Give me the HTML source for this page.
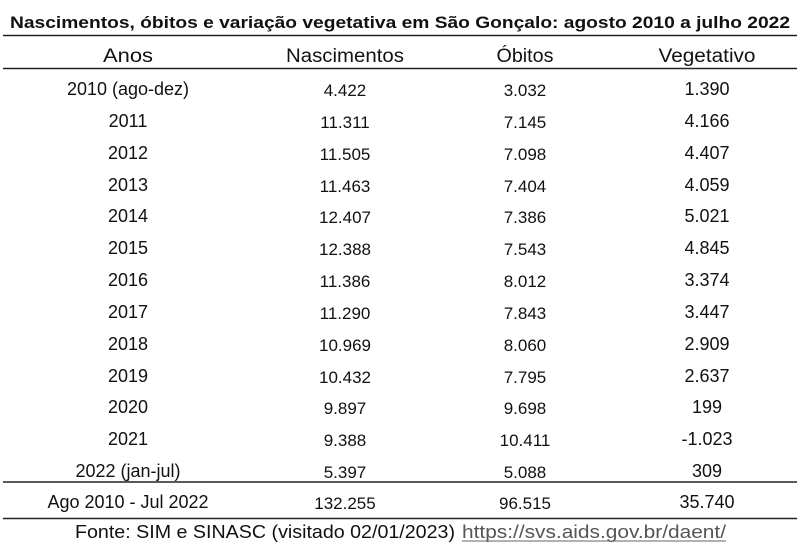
<!DOCTYPE html>
<html><head><meta charset="utf-8"><style>
html,body{margin:0;padding:0;background:#fff;}
svg{display:block;}
text{font-family:"Liberation Sans",sans-serif;fill:#111;}
</style></head><body>
<svg width="800" height="548" viewBox="0 0 800 548" xmlns="http://www.w3.org/2000/svg">
<text x="10" y="28" font-size="17" font-weight="bold" textLength="780" lengthAdjust="spacingAndGlyphs">Nascimentos, óbitos e variação vegetativa em São Gonçalo: agosto 2010 a julho 2022</text>
<line x1="3" y1="35.5" x2="797" y2="35.5" stroke="#222" stroke-width="1.5"/>
<g font-size="19" text-anchor="middle">
<text x="128" y="62" textLength="50" lengthAdjust="spacingAndGlyphs">Anos</text>
<text x="345" y="62" textLength="118" lengthAdjust="spacingAndGlyphs">Nascimentos</text>
<text x="525" y="62" textLength="57" lengthAdjust="spacingAndGlyphs">Óbitos</text>
<text x="707" y="62" textLength="97" lengthAdjust="spacingAndGlyphs">Vegetativo</text>
</g>
<line x1="3" y1="68.5" x2="797" y2="68.5" stroke="#222" stroke-width="1.5"/>
<g font-size="18" text-anchor="middle">
<text x="128" y="95">2010 (ago-dez)</text>
<text x="128" y="127">2011</text>
<text x="128" y="159">2012</text>
<text x="128" y="191">2013</text>
<text x="128" y="222">2014</text>
<text x="128" y="254">2015</text>
<text x="128" y="286">2016</text>
<text x="128" y="318">2017</text>
<text x="128" y="350">2018</text>
<text x="128" y="382">2019</text>
<text x="128" y="413">2020</text>
<text x="128" y="445">2021</text>
<text x="128" y="477">2022 (jan-jul)</text>
<text x="128" y="508">Ago 2010 - Jul 2022</text>
</g>
<g font-size="17" text-anchor="middle">
<text x="345" y="96">4.422</text><text x="525" y="96">3.032</text>
<text x="345" y="128">11.311</text><text x="525" y="128">7.145</text>
<text x="345" y="160">11.505</text><text x="525" y="160">7.098</text>
<text x="345" y="192">11.463</text><text x="525" y="192">7.404</text>
<text x="345" y="223">12.407</text><text x="525" y="223">7.386</text>
<text x="345" y="255">12.388</text><text x="525" y="255">7.543</text>
<text x="345" y="287">11.386</text><text x="525" y="287">8.012</text>
<text x="345" y="319">11.290</text><text x="525" y="319">7.843</text>
<text x="345" y="351">10.969</text><text x="525" y="351">8.060</text>
<text x="345" y="383">10.432</text><text x="525" y="383">7.795</text>
<text x="345" y="414">9.897</text><text x="525" y="414">9.698</text>
<text x="345" y="446">9.388</text><text x="525" y="446">10.411</text>
<text x="345" y="478">5.397</text><text x="525" y="478">5.088</text>
<text x="345" y="509">132.255</text><text x="525" y="509">96.515</text>
</g>
<g font-size="18" text-anchor="middle">
<text x="707" y="95">1.390</text>
<text x="707" y="127">4.166</text>
<text x="707" y="159">4.407</text>
<text x="707" y="191">4.059</text>
<text x="707" y="222">5.021</text>
<text x="707" y="254">4.845</text>
<text x="707" y="286">3.374</text>
<text x="707" y="318">3.447</text>
<text x="707" y="350">2.909</text>
<text x="707" y="382">2.637</text>
<text x="707" y="413">199</text>
<text x="707" y="445">-1.023</text>
<text x="707" y="477">309</text>
<text x="707" y="508">35.740</text>
</g>
<line x1="3" y1="482" x2="797" y2="482" stroke="#222" stroke-width="1.5"/>
<line x1="3" y1="518.5" x2="797" y2="518.5" stroke="#222" stroke-width="1.5"/>
<text x="75" y="538" font-size="18" textLength="380" lengthAdjust="spacingAndGlyphs">Fonte: SIM e SINASC (visitado 02/01/2023)</text>
<text x="462" y="538" font-size="18" style="fill:#555" textLength="264" lengthAdjust="spacingAndGlyphs">https://svs.aids.gov.br/daent/</text>
<line x1="462" y1="541" x2="726" y2="541" stroke="#666" stroke-width="1"/>
</svg>
</body></html>
